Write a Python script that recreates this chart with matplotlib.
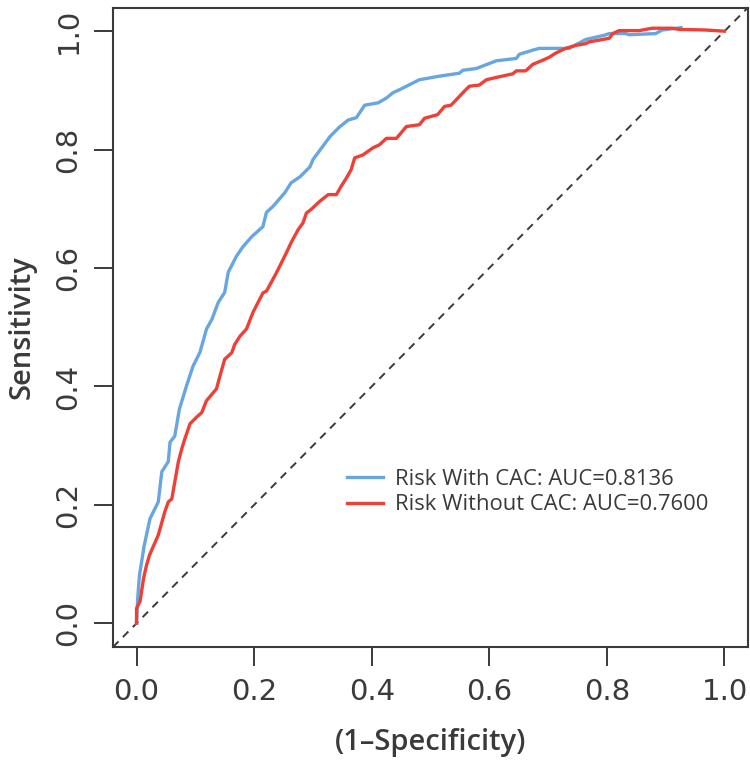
import matplotlib
matplotlib.use("Agg")
import matplotlib.pyplot as plt

# ROC curve: Risk With CAC
fpr_with = [0.000, 0.002, 0.005, 0.013, 0.023, 0.037, 0.043, 0.054, 0.057, 0.065,
            0.073, 0.085, 0.096, 0.108, 0.119, 0.128, 0.139, 0.150, 0.156, 0.170,
            0.181, 0.196, 0.215, 0.221, 0.232, 0.252, 0.263, 0.278, 0.295, 0.300,
            0.329, 0.345, 0.360, 0.374, 0.388, 0.411, 0.425, 0.436, 0.447, 0.481,
            0.515, 0.549, 0.555, 0.578, 0.612, 0.646, 0.651, 0.674, 0.685, 0.736,
            0.764, 0.795, 0.804, 0.832, 0.838, 0.883, 0.894, 0.926]
tpr_with = [0.000, 0.042, 0.081, 0.131, 0.177, 0.205, 0.256, 0.273, 0.306, 0.316,
            0.362, 0.401, 0.434, 0.458, 0.497, 0.513, 0.542, 0.559, 0.593, 0.620,
            0.636, 0.653, 0.670, 0.694, 0.704, 0.727, 0.744, 0.754, 0.771, 0.783,
            0.822, 0.838, 0.850, 0.854, 0.875, 0.879, 0.887, 0.896, 0.901, 0.918,
            0.924, 0.929, 0.934, 0.937, 0.950, 0.954, 0.961, 0.968, 0.971, 0.971,
            0.986, 0.993, 0.996, 0.996, 0.994, 0.996, 1.002, 1.006]

# ROC curve: Risk Without CAC
fpr_without = [0.000, 0.000, 0.006, 0.012, 0.017, 0.022, 0.037, 0.048, 0.054, 0.060,
               0.071, 0.077, 0.082, 0.091, 0.102, 0.111, 0.119, 0.136, 0.142, 0.150,
               0.162, 0.167, 0.176, 0.187, 0.198, 0.215, 0.221, 0.238, 0.255, 0.263,
               0.275, 0.283, 0.289, 0.297, 0.312, 0.326, 0.340, 0.348, 0.357, 0.365,
               0.371, 0.385, 0.402, 0.413, 0.425, 0.442, 0.459, 0.481, 0.490, 0.512,
               0.524, 0.535, 0.555, 0.566, 0.583, 0.595, 0.617, 0.640, 0.646, 0.662,
               0.674, 0.691, 0.702, 0.713, 0.730, 0.747, 0.764, 0.770, 0.793, 0.804,
               0.810, 0.821, 0.855, 0.866, 0.877, 0.911, 0.923, 0.968, 1.000]
tpr_without = [0.000, 0.025, 0.037, 0.076, 0.098, 0.115, 0.149, 0.188, 0.205, 0.210,
               0.272, 0.295, 0.311, 0.337, 0.348, 0.356, 0.376, 0.396, 0.418, 0.446,
               0.457, 0.471, 0.485, 0.497, 0.525, 0.558, 0.561, 0.592, 0.626, 0.643,
               0.665, 0.676, 0.693, 0.699, 0.713, 0.724, 0.724, 0.738, 0.752, 0.766,
               0.786, 0.791, 0.803, 0.808, 0.819, 0.819, 0.839, 0.842, 0.853, 0.859,
               0.873, 0.875, 0.896, 0.907, 0.909, 0.918, 0.923, 0.928, 0.933, 0.933,
               0.944, 0.951, 0.956, 0.963, 0.971, 0.976, 0.979, 0.982, 0.986, 0.988,
               0.996, 1.001, 1.001, 1.003, 1.005, 1.005, 1.003, 1.002, 1.000]

labels = ["Risk With CAC: AUC=0.8136", "Risk Without CAC: AUC=0.7600"]
ticks = [0.0, 0.2, 0.4, 0.6, 0.8, 1.0]
tick_labels = ["0.0", "0.2", "0.4", "0.6", "0.8", "1.0"]

TXT = "#3a3a3a"
BLUE = "#67A6E0"
RED = "#EE4036"

fig = plt.figure(figsize=(7.5, 7.6), dpi=100)
ax = fig.add_axes([113/750, 1 - 647/760, (748 - 113)/750, (647 - 7.5)/760])

ax.plot([-0.04, 1.04], [-0.04, 1.04], ls=(0, (4, 3.2)), color="#3a3a3a", lw=1.4, zorder=1)
l1, = ax.plot(fpr_with, tpr_with, color=BLUE, lw=2.4, zorder=3, solid_joinstyle="round")
l2, = ax.plot(fpr_without, tpr_without, color=RED, lw=2.4, zorder=4, solid_joinstyle="round")

ax.set_xlim(-0.04, 1.04)
ax.set_ylim(-0.04, 1.04)
ax.set_xticks(ticks)
ax.set_yticks(ticks)
ax.set_xticklabels(tick_labels, fontsize=21, color=TXT, family="DejaVu Sans")
ax.set_yticklabels(tick_labels, fontsize=21, color=TXT, family="DejaVu Sans",
                   rotation=90, va="center")
ax.tick_params(axis="both", direction="out", length=14, width=1.4, color=TXT, pad=8)
for s in ax.spines.values():
    s.set_color(TXT)
    s.set_linewidth(1.5)

ax.set_xlabel("(1–Specificity)", fontsize=21, color=TXT, family="Open Sans",
              fontweight="semibold", labelpad=16)
ax.set_ylabel("Sensitivity", fontsize=21, color=TXT, family="Open Sans",
              fontweight="semibold", labelpad=13)

leg = fig.legend([l1, l2], labels, loc="center left",
                 bbox_to_anchor=(347/750, 1 - 492/760), frameon=False,
                 prop={"family": "Open Sans", "size": 15.8}, handlelength=1.65,
                 handletextpad=0.52, labelspacing=0.2, borderpad=0, borderaxespad=0)
for t in leg.get_texts():
    t.set_color(TXT)

fig.savefig("out.png", dpi=100)
